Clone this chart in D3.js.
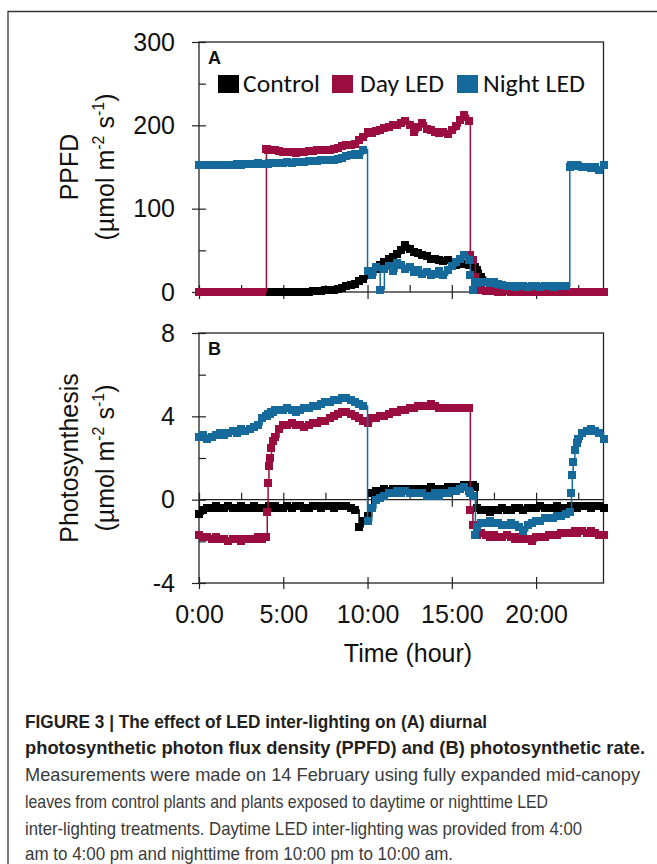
<!DOCTYPE html>
<html>
<head>
<meta charset="utf-8">
<script src="https://cdn.jsdelivr.net/npm/d3@7"></script>
<style>
  body { margin: 0; background: #fff; }
  svg { display: block; }
</style>
</head>
<body>
<div id="chart"></div>
<script>
// ---- data ----
var hours = [0,0.25,0.5,0.75,1,1.25,1.5,1.75,2,2.25,2.5,2.75,3,3.25,3.5,3.75,
  4,4.05,4.1,4.15,4.2,4.3,4.4,4.5,4.75,
  5,5.25,5.5,5.75,6,6.25,6.5,6.75,7,7.25,7.5,7.75,8,8.25,8.5,8.75,9,9.25,9.5,9.75,
  10,10.25,10.5,10.75,11,11.25,11.5,11.75,12,12.25,12.5,12.75,13,13.25,13.5,13.75,14,14.25,14.5,14.75,15,15.25,15.5,15.75,
  16,16.1,16.25,16.4,16.5,16.75,
  17,17.25,17.5,17.75,18,18.25,18.5,18.75,19,19.25,19.5,19.75,20,20.25,20.5,20.75,21,21.25,21.5,21.75,
  22,22.1,22.15,22.2,22.3,22.4,22.5,22.75,
  23,23.25,23.5,23.75,24];

var seriesNames = ["Control", "Day LED", "Night LED"];
var seriesColors = ["#000000", "#9b0d3f", "#156a9b"];

// panel A: PPFD
var ppfdControl = [0,0,0,0,0,0,0,0,0,0,0,0,0,0,0,0,
  0,0,0,0,0,0,0,0,0,
  0,0,0,0,0,0,0,1,1,1,2,2,3,4,5,7,8,10,13,16,
  20,24,28,32,36,40,42,46,50,56,52,48,47,44,43,40,40,38,37,38,35,33,36,34,
  33,33,32,30,26,18,
  12,7,4,3,2,1,1,0,0,0,0,0,0,0,0,0,0,0,0,0,
  0,0,0,0,0,0,0,0,
  0,0,0,0,0];
var ppfdDay = [0,0,0,0,0,0,0,0,0,0,0,0,0,0,0,0,
  172,172,171,171,170,170,170,170,169,
  168,168,168,167,168,168,169,169,170,170,171,171,172,173,175,176,177,178,182,186,
  192,191,193,195,197,198,200,201,203,205,200,192,198,203,196,194,192,191,192,190,194,199,206,212,
  205,45,38,18,12,3,
  1,1,1,0,0,1,0,0,1,0,0,0,1,0,0,0,1,0,0,0,
  0,0,0,0,0,0,0,0,
  0,0,0,0,0];
var ppfdNight = [153,153,152,153,153,152,153,153,153,154,153,154,154,154,155,154,
  154,154,154,155,155,155,155,155,155,
  155,156,155,156,156,156,157,157,157,158,158,159,159,160,161,163,164,166,165,171,
  25,20,30,3,28,31,25,35,32,28,30,24,26,22,24,20,22,25,20,27,31,36,40,44,
  38,20,3,12,11,12,
  12,11,12,10,8,7,7,6,7,7,6,7,7,6,7,7,6,7,7,7,
  150,153,152,152,151,152,151,150,
  150,149,150,147,152];

// panel B: photosynthesis
var photControl = [-0.7,-0.5,-0.4,-0.4,-0.3,-0.4,-0.4,-0.3,-0.4,-0.4,-0.3,-0.4,-0.4,-0.3,-0.4,-0.4,
  -0.4,-0.4,-0.4,-0.3,-0.3,-0.4,-0.4,-0.3,-0.4,
  -0.4,-0.3,-0.4,-0.3,-0.3,-0.4,-0.4,-0.3,-0.3,-0.4,-0.3,-0.3,-0.4,-0.3,-0.3,-0.3,-0.4,-0.5,-1.3,-1.0,
  -0.8,0.3,0.4,0.4,0.5,0.4,0.5,0.5,0.4,0.5,0.5,0.5,0.4,0.5,0.5,0.6,0.5,0.5,0.5,0.6,0.5,0.6,0.6,0.7,
  0.7,0.7,0.7,0.6,-0.4,-0.5,
  -0.5,-0.6,-0.5,-0.5,-0.4,-0.5,-0.5,-0.4,-0.4,-0.5,-0.4,-0.4,-0.4,-0.3,-0.4,-0.4,-0.4,-0.3,-0.4,-0.4,
  -0.4,-0.3,-0.4,-0.4,-0.3,-0.4,-0.3,-0.3,
  -0.3,-0.4,-0.3,-0.3,-0.4];
var photDay = [-1.7,-1.8,-1.8,-1.9,-1.8,-1.9,-1.9,-2.0,-1.9,-1.9,-2.0,-1.9,-1.9,-1.9,-1.8,-1.9,
  -1.8,-0.6,0.8,1.6,2.0,2.5,2.8,3.0,3.4,
  3.6,3.6,3.7,3.6,3.6,3.5,3.6,3.7,3.7,3.8,3.8,3.9,4.0,4.1,4.2,4.2,4.1,4.0,3.9,3.8,
  3.7,3.9,3.9,4.0,4.0,4.1,4.2,4.2,4.3,4.3,4.4,4.4,4.5,4.5,4.5,4.6,4.5,4.4,4.4,4.4,4.4,4.4,4.4,4.4,
  4.4,-0.5,-1.2,-1.7,-1.7,-1.6,
  -1.7,-1.8,-1.7,-1.8,-1.8,-1.7,-1.8,-1.9,-1.8,-1.9,-1.9,-2.0,-1.8,-1.8,-1.8,-1.7,-1.7,-1.7,-1.6,-1.6,
  -1.6,-1.6,-1.6,-1.6,-1.5,-1.6,-1.5,-1.5,
  -1.6,-1.5,-1.6,-1.7,-1.7];
var photNight = [3.0,3.1,2.9,3.0,3.1,3.2,3.1,3.2,3.3,3.2,3.4,3.3,3.4,3.5,3.6,3.9,
  4.0,4.0,4.1,4.1,4.1,4.2,4.2,4.3,4.3,
  4.3,4.4,4.3,4.2,4.3,4.4,4.4,4.5,4.5,4.6,4.7,4.7,4.8,4.8,4.9,4.9,4.8,4.7,4.6,4.5,
  -1.0,-0.4,0.0,0.1,0.2,0.3,0.3,0.4,0.3,0.4,0.3,0.3,0.3,0.3,0.2,0.2,0.3,0.2,0.3,0.3,0.4,0.4,0.5,0.6,
  0.4,0.3,0.2,-1.7,-1.3,-1.1,
  -1.1,-1.0,-1.1,-1.1,-1.2,-1.2,-1.1,-1.2,-1.3,-1.5,-1.2,-1.1,-1.0,-1.0,-0.9,-0.9,-0.9,-0.8,-0.8,-0.7,
  -0.6,0.3,1.2,1.8,2.4,2.7,2.9,3.2,
  3.3,3.4,3.3,3.2,2.9];

var ppfdMajorTicks = [0, 100, 200, 300];
var ppfdMinorTicks = [50, 150, 250];
var photMajorTicks = [-4, 0, 4, 8];
var photMinorTicks = [-2, 2, 6];
var hourMajorTicks = [0, 5, 10, 15, 20];
var hourMinorTicks = [2.5, 7.5, 12.5, 17.5, 22.5];
var hourLabels = ["0:00", "5:00", "10:00", "15:00", "20:00"];

var captionBold = [
  "FIGURE 3 | The effect of LED inter-lighting on (A) diurnal",
  "photosynthetic photon flux density (PPFD) and (B) photosynthetic rate."
];
var captionText = [
  "Measurements were made on 14 February using fully expanded mid-canopy",
  "leaves from control plants and plants exposed to daytime or nighttime LED",
  "inter-lighting treatments. Daytime LED inter-lighting was provided from 4:00",
  "am to 4:00 pm and nighttime from 10:00 pm to 10:00 am."
];

[ppfdControl, ppfdDay, ppfdNight, photControl, photDay, photNight].forEach(function(s, i) {
  if (s.length !== hours.length) throw new Error("series " + i + " has " + s.length + " values, expected " + hours.length);
});

// ---- drawing ----
var width = 657, height = 864;
var font = "'Liberation Sans', Arial, Helvetica, sans-serif";
var axisColor = "#222";

var svg = d3.select("#chart").append("svg")
  .attr("width", width)
  .attr("height", height)
  .style("font-family", font);

// outer figure frame (top and left edges visible)
svg.append("path")
  .attr("d", "M8,864V11.5H657")
  .attr("fill", "none")
  .attr("stroke", "#333")
  .attr("stroke-width", 1.3);

var x = d3.scaleLinear().domain([0, 24]).range([199, 603.5]);

var panels = [
  { letter: "A", top: 42, bottom: 292, domain: [0, 300],
    major: ppfdMajorTicks, minor: ppfdMinorTicks,
    series: [ppfdControl, ppfdDay, ppfdNight], title: "PPFD", legend: true },
  { letter: "B", top: 333, bottom: 583, domain: [-4, 8],
    major: photMajorTicks, minor: photMinorTicks,
    series: [photControl, photDay, photNight], title: "Photosynthesis", legend: false }
];

function styleAxis(g) {
  g.select(".domain").remove();
  g.selectAll(".tick line").attr("stroke", axisColor).attr("stroke-width", 1.2);
  g.selectAll("text").attr("font-size", 25).attr("fill", "#111").attr("font-family", font);
}

function unitLabel(text) {
  text.append("tspan").text("(\u00b5mol m");
  text.append("tspan").attr("dy", -10).attr("font-size", 16).text("-2");
  text.append("tspan").attr("dy", 10).text(" s");
  text.append("tspan").attr("dy", -10).attr("font-size", 16).text("-1");
  text.append("tspan").attr("dy", 10).text(")");
}

panels.forEach(function(p) {
  var y = d3.scaleLinear().domain(p.domain).range([p.bottom, p.top]);
  var g = svg.append("g");

  // plot frame
  g.append("rect")
    .attr("x", x(0)).attr("y", p.top)
    .attr("width", x(24) - x(0)).attr("height", p.bottom - p.top)
    .attr("fill", "none").attr("stroke", axisColor).attr("stroke-width", 1.3);

  // y axis: labels + outward major ticks (plain hyphen for negatives)
  g.append("g").attr("transform", "translate(" + x(0) + ",0)")
    .call(d3.axisLeft(y).tickValues(p.major).tickSize(7).tickPadding(17).tickFormat(function(d) { return String(d); }))
    .call(styleAxis);
  // y axis: inward ticks
  g.append("g").attr("transform", "translate(" + x(0) + ",0)")
    .call(d3.axisRight(y).tickValues(p.major.concat(p.minor)).tickSize(7).tickFormat(""))
    .call(styleAxis);

  // horizontal axis at zero
  var zeroY = y(0);
  if (p.domain[0] < 0) {
    g.append("line")
      .attr("x1", x(0)).attr("x2", x(24)).attr("y1", zeroY).attr("y2", zeroY)
      .attr("stroke", axisColor).attr("stroke-width", 1.3);
  }
  g.append("g").attr("transform", "translate(0," + zeroY + ")")
    .call(d3.axisBottom(x).tickValues(hourMajorTicks).tickSize(7).tickFormat(""))
    .call(styleAxis);
  g.append("g").attr("transform", "translate(0," + zeroY + ")")
    .call(d3.axisTop(x).tickValues(hourMajorTicks.concat(hourMinorTicks)).tickSize(7).tickFormat(""))
    .call(styleAxis);

  // bottom axis with hour labels on the lower panel
  if (p.domain[0] < 0) {
    g.append("g").attr("transform", "translate(0," + p.bottom + ")")
      .call(d3.axisBottom(x).tickValues(hourMajorTicks).tickSize(6).tickPadding(16)
        .tickFormat(function(d, i) { return hourLabels[i]; }))
      .call(styleAxis);
    g.append("g").attr("transform", "translate(0," + p.bottom + ")")
      .call(d3.axisTop(x).tickValues(hourMajorTicks).tickSize(6).tickFormat(""))
      .call(styleAxis);
  }

  // series: thin connecting line + square markers
  var line = d3.line()
    .x(function(d) { return x(d[0]); })
    .y(function(d) { return y(d[1]); })
    .curve(d3.curveStepAfter);
  var ms = 8;
  p.series.forEach(function(values, si) {
    var pts = hours.map(function(h, i) { return [h, values[i]]; });
    var sg = g.append("g");
    sg.append("path")
      .attr("d", line(pts))
      .attr("fill", "none")
      .attr("stroke", seriesColors[si])
      .attr("stroke-width", 1.5);
    sg.selectAll("rect")
      .data(pts)
      .enter()
      .append("rect")
      .attr("x", function(d) { return x(d[0]) - ms / 2; })
      .attr("y", function(d) { return y(d[1]) - ms / 2; })
      .attr("width", ms)
      .attr("height", ms)
      .attr("shape-rendering", "crispEdges")
      .attr("fill", seriesColors[si]);
  });

  // panel letter
  g.append("text")
    .attr("x", 208).attr("y", p.top + 22)
    .attr("font-size", 18).attr("font-weight", "bold").attr("fill", "#111")
    .text(p.letter);

  // y title (two lines)
  var cy = (p.top + p.bottom) / 2;
  g.append("text")
    .attr("transform", "translate(78," + cy + ") rotate(-90)")
    .attr("text-anchor", "middle").attr("font-size", 25).attr("fill", "#111")
    .text(p.title);
  g.append("text")
    .attr("transform", "translate(114," + cy + ") rotate(-90)")
    .attr("text-anchor", "middle").attr("font-size", 25).attr("fill", "#111")
    .call(unitLabel);

  if (p.legend) {
    var legendFont = "Carlito, Lato, 'Open Sans', sans-serif";
    var boxX = [218, 332, 457], textX = [243, 360, 483], textW = [77, 84, 102];
    var lg = g.append("g");
    seriesNames.forEach(function(name, i) {
      lg.append("rect")
        .attr("x", boxX[i]).attr("y", 75)
        .attr("width", 21).attr("height", 18)
        .attr("fill", seriesColors[i]);
      lg.append("text")
        .attr("x", textX[i]).attr("y", 92)
        .attr("font-family", legendFont).attr("font-size", 25).attr("fill", "#111")
        .attr("textLength", textW[i]).attr("lengthAdjust", "spacingAndGlyphs")
        .text(name);
    });
  }
});

// x title
svg.append("text")
  .attr("x", 408).attr("y", 662)
  .attr("text-anchor", "middle").attr("font-size", 25).attr("fill", "#111")
  .text("Time (hour)");

// caption
var capX = 25;
var boldW = [462, 620], boldY = [728, 754];
captionBold.forEach(function(t, i) {
  svg.append("text")
    .attr("x", capX).attr("y", boldY[i])
    .attr("font-size", 18.5).attr("font-weight", "bold").attr("fill", "#231f20")
    .attr("textLength", boldW[i]).attr("lengthAdjust", "spacingAndGlyphs")
    .text(t);
});
var textW = [615, 523, 557, 428], textY = [781, 808, 835, 860];
captionText.forEach(function(t, i) {
  svg.append("text")
    .attr("x", capX).attr("y", textY[i])
    .attr("font-size", 18.5).attr("fill", "#3a3a3a")
    .attr("textLength", textW[i]).attr("lengthAdjust", "spacingAndGlyphs")
    .text(t);
});
</script>
</body>
</html>
